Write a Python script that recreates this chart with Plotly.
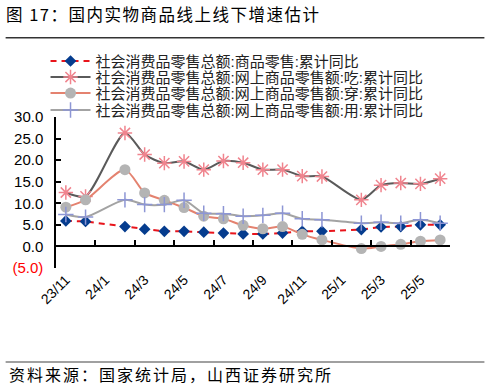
import plotly.graph_objects as go

categories = ["23/11", "23/12", "24/1", "24/2", "24/3", "24/4", "24/5", "24/6", "24/7", "24/8",
              "24/9", "24/10", "24/11", "24/12", "25/1", "25/2", "25/3", "25/4", "25/5", "25/6"]
tick_labels = ["23/11", "24/1", "24/3", "24/5", "24/7", "24/9", "24/11", "25/1", "25/3", "25/5"]

names = [
    "社会消费品零售总额:商品零售:累计同比",
    "社会消费品零售总额:网上商品零售额:吃:累计同比",
    "社会消费品零售总额:网上商品零售额:穿:累计同比",
    "社会消费品零售总额:网上商品零售额:用:累计同比",
]

goods_retail = [5.9, 5.8, None, 4.6, 4.0, 3.5, 3.5, 3.3, 3.1, 2.9,
                2.9, 3.1, 3.5, 3.5, None, 3.9, 4.5, 4.6, 5.0, 5.0]
online_eat = [12.5, 11.6, None, 26.3, 21.3, 19.3, 19.7, 17.8, 19.8, 19.4,
              17.8, 17.8, 16.3, 16.2, None, 10.8, 14.2, 14.7, 14.5, 15.7]
online_wear = [9.1, 10.8, None, 17.8, 12.4, 10.7, 9.0, 7.0, 6.4, 4.9,
               4.1, 4.6, 2.8, 1.5, None, -0.5, 0.0, 0.5, 1.2, 1.5]
online_use = [7.4, 6.8, None, 10.8, 9.7, 9.7, 10.7, 7.7, 7.6, 7.0,
              7.2, 7.7, 6.4, 6.2, None, 5.4, 5.6, 5.4, 6.2, 5.4]

y_ticks = [-5, 0, 5, 10, 15, 20, 25, 30]

idx = list(range(len(categories)))
label_pos = [categories.index(t) for t in tick_labels]
boundary_pos = [i - 0.5 for i in range(0, len(categories) + 1, 2)]

def fmt(v):
    if v < 0:
        return "<span style='color:#ff0000'>(%.1f)</span>" % abs(v)
    return "%.1f" % v

fig = go.Figure()
fig.add_trace(go.Scatter(
    x=idx, y=goods_retail, name=names[0], mode="lines+markers", connectgaps=True, legend="legend",
    line=dict(color="#e8141b", width=2, dash="6px,5px"),
    marker=dict(symbol="diamond", size=9, color="#053c8e"),
))
fig.add_trace(go.Scatter(
    x=idx, y=online_eat, name=names[1], mode="lines+markers", connectgaps=True, legend="legend2",
    line=dict(color="#5a5a5a", width=2, shape="spline", smoothing=0.7),
    marker=dict(symbol="asterisk-open", size=12, color="#f0848e", line=dict(width=1.5, color="#f0848e")),
))
fig.add_trace(go.Scatter(
    x=idx, y=online_wear, name=names[2], mode="lines+markers", connectgaps=True, legend="legend3",
    line=dict(color="#e4826f", width=2, shape="spline", smoothing=0.7),
    marker=dict(symbol="circle", size=11, color="#b4b4b4"),
))
fig.add_trace(go.Scatter(
    x=idx, y=online_use, name=names[3], mode="lines+markers", connectgaps=True, legend="legend4",
    line=dict(color="#a3a3a3", width=2, shape="spline", smoothing=0.7),
    marker=dict(symbol="cross-thin-open", size=11, color="#8d96d5", line=dict(width=1.5, color="#8d96d5")),
))
# invisible trace to carry the zero-line axis with tick marks
fig.add_trace(go.Scatter(x=[idx[0]], y=[None], xaxis="x2", showlegend=False, hoverinfo="skip"))

W, H = 485, 389
L, R, T, B = 55.5, 34.5, 116.7, 121.4
ph = H - T - B
pw = W - L - R

def px_x(p):
    return (p - L) / pw

def px_y(p):
    return (H - B - p) / ph

yr = [-5, 30]
zero_pos = (0 - yr[0]) / (yr[1] - yr[0])

legend_centers = [61, 77, 93, 110]

def legend_cfg(cy):
    return dict(
        x=px_x(45), y=px_y(cy), xanchor="left", yanchor="middle",
        font=dict(size=15, family="Liberation Sans, Noto Sans CJK SC", color="#222"),
        itemwidth=40, bgcolor="rgba(0,0,0,0)",
    )

fig.update_layout(
    width=W, height=H,
    margin=dict(l=L, r=R, t=T, b=B, autoexpand=False),
    paper_bgcolor="white", plot_bgcolor="white",
    font=dict(family="Liberation Sans, Arial, Noto Sans CJK SC", color="black"),
    showlegend=True,
    legend=legend_cfg(legend_centers[0]),
    legend2=legend_cfg(legend_centers[1]),
    legend3=legend_cfg(legend_centers[2]),
    legend4=legend_cfg(legend_centers[3]),
    title=dict(
        text="<span style='letter-spacing:1.5px'>图 17：国内实物商品线上线下增速估计</span>",
        x=6 / W, xref="container", xanchor="left",
        y=1 - 15 / H, yref="container", yanchor="middle",
        font=dict(size=16.5, family="Noto Sans CJK SC", color="black"),
    ),
    xaxis=dict(
        range=[-0.5, len(categories) - 0.5], showgrid=False, zeroline=False, showline=False,
        tickmode="array", tickvals=label_pos, ticktext=tick_labels, tickangle=-45,
        ticks="", tickfont=dict(size=14, family="Liberation Sans, Arial"),
    ),
    xaxis2=dict(
        range=[-0.5, len(categories) - 0.5], overlaying="x", anchor="free", position=zero_pos,
        side="bottom", showgrid=False, zeroline=False, showline=True, linecolor="black", linewidth=1.5,
        tickmode="array", tickvals=boundary_pos, ticks="inside", ticklen=6, tickcolor="black",
        tickwidth=1.5, showticklabels=False,
    ),
    yaxis=dict(
        range=yr, showgrid=False, zeroline=False, showline=True, linecolor="black", linewidth=1.5,
        tickmode="array", tickvals=y_ticks, ticktext=[fmt(v) for v in y_ticks],
        ticks="inside", ticklen=5, tickcolor="black", tickwidth=1.5,
        tickfont=dict(size=15, family="Liberation Sans, Arial"), ticklabelstandoff=8,
    ),
    shapes=[
        dict(type="line", xref="paper", yref="paper", x0=px_x(5), x1=px_x(485),
             y0=px_y(37.5), y1=px_y(37.5), line=dict(color="#333333", width=1.5)),
        dict(type="line", xref="paper", yref="paper", x0=px_x(5), x1=px_x(485),
             y0=px_y(361.5), y1=px_y(361.5), line=dict(color="#808080", width=1.5)),
    ],
    annotations=[
        dict(text="<span style='letter-spacing:2px'>资料来源：国家统计局，山西证券研究所</span>",
             xref="paper", yref="paper",
             x=px_x(6), y=px_y(374), xanchor="left", yanchor="middle", showarrow=False,
             font=dict(size=16, family="Noto Sans CJK SC", color="black")),
    ],
)

fig.write_html("out.html", config={"displayModeBar": False},
               post_script="document.body.style.margin='0';")
